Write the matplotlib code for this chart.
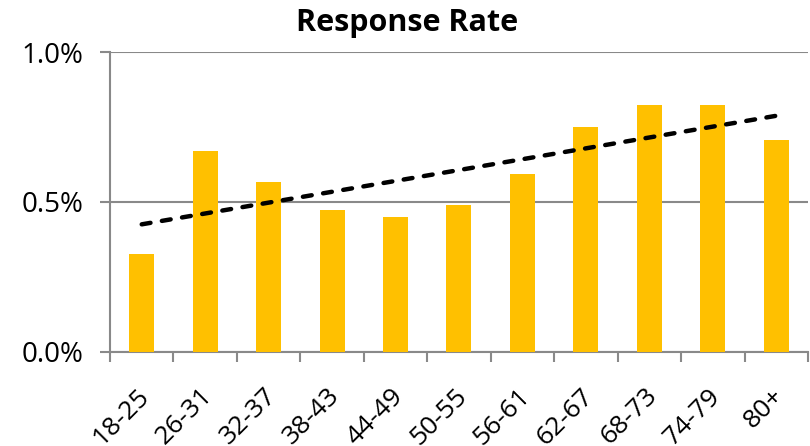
import numpy as np
import matplotlib
matplotlib.use("Agg")
import matplotlib.pyplot as plt
from matplotlib.ticker import FuncFormatter, FixedLocator
import matplotlib.transforms as mtransforms

# Response rate by age band (percent)
age_bands = ["18-25", "26-31", "32-37", "38-43", "44-49", "50-55",
             "56-61", "62-67", "68-73", "74-79", "80+"]
response_rate = [0.325, 0.671, 0.566, 0.473, 0.451, 0.491,
                 0.593, 0.749, 0.822, 0.822, 0.708]
y_ticks = [0.0, 0.5, 1.0]

plt.rcParams["font.family"] = ["Open Sans", "DejaVu Sans"]
axis_grey = "#898989"

fig = plt.figure(figsize=(8.1, 4.46), dpi=100)
ax = fig.add_axes([0.1358, 0.2108, 0.9975 - 0.1358, 0.8834 - 0.2108])

x = np.arange(len(age_bands))
ax.bar(x, response_rate, width=0.394, color="#FFC000", zorder=3)

# Linear trend line over the bars
slope, intercept = np.polyfit(x, response_rate, 1)
ax.plot(x, slope * x + intercept, color="black", linestyle=(0, (2.0, 2.6)),
        linewidth=3.2, zorder=4, dash_capstyle="round")

ax.set_xlim(-0.5, len(age_bands) - 0.5)
ax.set_ylim(0, 1.0)

ax.set_yticks(y_ticks)
ax.yaxis.set_major_formatter(FuncFormatter(lambda v, p: f"{v:.1f}%"))
ax.grid(axis="y", color=axis_grey, linewidth=1.5, zorder=0)
ax.tick_params(axis="y", length=7.2, width=1.5, color=axis_grey,
               labelsize=20, pad=12)

ax.set_xticks(x)
ax.set_xticklabels(age_bands, rotation=45, ha="right", va="center",
                   rotation_mode="anchor", fontsize=19)
ax.tick_params(axis="x", which="major", length=0, pad=29)
ax.xaxis.set_minor_locator(FixedLocator(np.arange(-0.5, len(age_bands), 1.0)))
ax.tick_params(axis="x", which="minor", length=7.2, width=1.5, color=axis_grey)
offset = mtransforms.ScaledTranslation(4 / 100, 0, fig.dpi_scale_trans)
for lbl in ax.get_xticklabels():
    lbl.set_transform(lbl.get_transform() + offset)

for side in ("top", "right"):
    ax.spines[side].set_visible(False)
for side in ("left", "bottom"):
    ax.spines[side].set_color(axis_grey)
    ax.spines[side].set_linewidth(1.5)

fig.text(407 / 810, 1 - 23 / 446, "Response Rate", ha="center", va="center",
         fontsize=22, fontweight="bold")

fig.savefig("out.png", dpi=100)
